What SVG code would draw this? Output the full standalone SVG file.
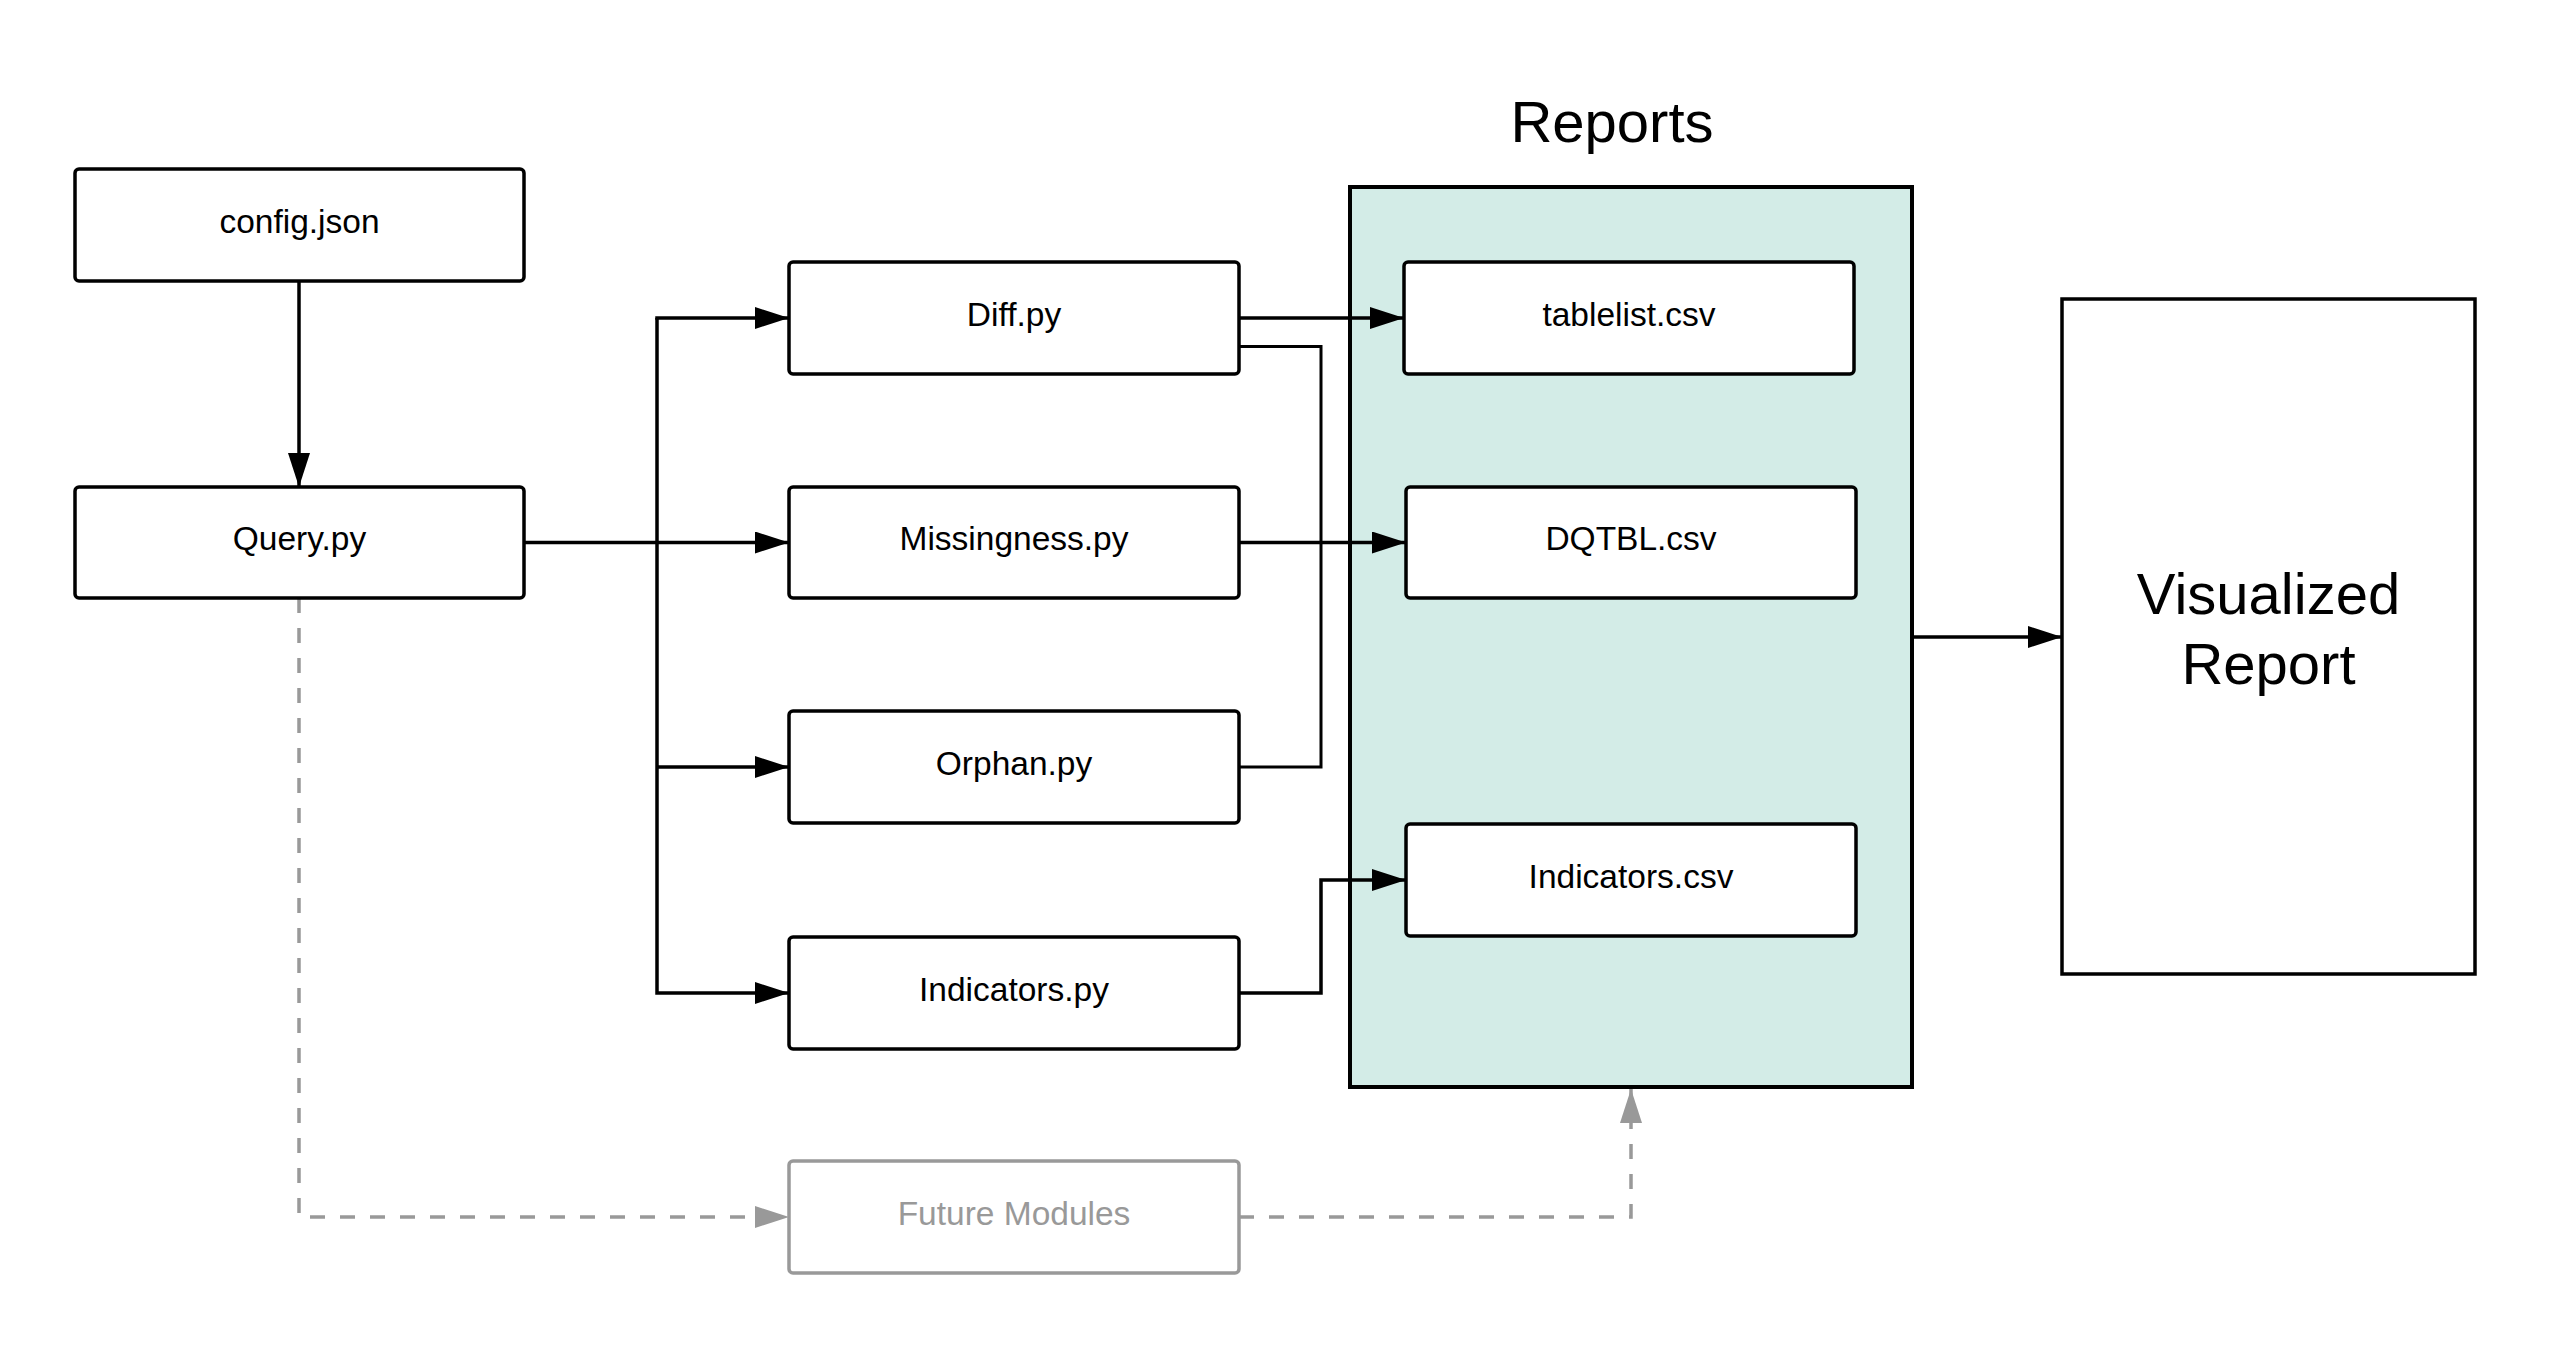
<svg xmlns="http://www.w3.org/2000/svg" width="2550" height="1350" viewBox="0 0 2550 1350">
<style>
.box{fill:#ffffff;stroke:#000000;stroke-width:3.5}
.gbox{fill:#ffffff;stroke:#999999;stroke-width:3.5}
.lbl{font-family:"Liberation Sans",Arial,sans-serif;font-size:33.5px;fill:#000000;text-anchor:middle}
.glbl{font-family:"Liberation Sans",Arial,sans-serif;font-size:33.5px;fill:#999999;text-anchor:middle}
.big{font-family:"Liberation Sans",Arial,sans-serif;font-size:58px;fill:#000000;text-anchor:middle}
.ln{fill:none;stroke:#000000;stroke-width:3.5}
.thin{fill:none;stroke:#000000;stroke-width:3}
.dash{fill:none;stroke:#999999;stroke-width:3.5;stroke-dasharray:15 15}
</style>
<defs>
<marker id="ah" markerUnits="userSpaceOnUse" markerWidth="34" markerHeight="22" refX="34" refY="11" orient="auto">
<path d="M0,0 L34,11 L0,22 z" fill="#000000"/>
</marker>
<marker id="ahg" markerUnits="userSpaceOnUse" markerWidth="34" markerHeight="22" refX="34" refY="11" orient="auto">
<path d="M0,0 L34,11 L0,22 z" fill="#999999"/>
</marker>
</defs>
<rect width="2550" height="1350" fill="#ffffff"/>

<g id="reports">
<rect x="1350" y="187" width="562" height="900" fill="#d3ece7" stroke="#000000" stroke-width="4"/>
<text class="big" x="1612" y="142">Reports</text>
</g>

<g id="connectors">
<line class="ln" x1="299" y1="281" x2="299" y2="487" marker-end="url(#ah)"/>
<line class="ln" x1="524" y1="542.5" x2="789" y2="542.5" marker-end="url(#ah)"/>
<polyline class="ln" points="657,318 657,993 789,993" marker-end="url(#ah)"/>
<line class="ln" x1="655.25" y1="318" x2="789" y2="318" marker-end="url(#ah)"/>
<line class="ln" x1="657" y1="767" x2="789" y2="767" marker-end="url(#ah)"/>
<line class="ln" x1="1239" y1="318" x2="1404" y2="318" marker-end="url(#ah)"/>
<polyline class="thin" points="1239,346.5 1321,346.5 1321,767 1239,767"/>
<line class="ln" x1="1239" y1="542.5" x2="1406" y2="542.5" marker-end="url(#ah)"/>
<polyline class="ln" points="1239,993 1321,993 1321,880 1406,880" marker-end="url(#ah)"/>
<line class="ln" x1="1912" y1="637" x2="2062" y2="637" marker-end="url(#ah)"/>
<polyline class="dash" points="299,598 299,1217 789,1217" marker-end="url(#ahg)"/>
<polyline class="dash" points="1239,1217 1631,1217 1631,1089" marker-end="url(#ahg)"/>
</g>

<g id="config">
<rect class="box" x="75" y="169" width="449" height="112" rx="4"/>
<text class="lbl" x="299.5" y="233">config.json</text>
</g>
<g id="query">
<rect class="box" x="75" y="487" width="449" height="111" rx="4"/>
<text class="lbl" x="299.5" y="550">Query.py</text>
</g>
<g id="diff">
<rect class="box" x="789" y="262" width="450" height="112" rx="4"/>
<text class="lbl" x="1014" y="326">Diff.py</text>
</g>
<g id="missingness">
<rect class="box" x="789" y="487" width="450" height="111" rx="4"/>
<text class="lbl" x="1014" y="550">Missingness.py</text>
</g>
<g id="orphan">
<rect class="box" x="789" y="711" width="450" height="112" rx="4"/>
<text class="lbl" x="1014" y="775">Orphan.py</text>
</g>
<g id="indicators-py">
<rect class="box" x="789" y="937" width="450" height="112" rx="4"/>
<text class="lbl" x="1014" y="1001">Indicators.py</text>
</g>
<g id="future">
<rect class="gbox" x="789" y="1161" width="450" height="112" rx="4"/>
<text class="glbl" x="1014" y="1225">Future Modules</text>
</g>
<g id="tablelist">
<rect class="box" x="1404" y="262" width="450" height="112" rx="4"/>
<text class="lbl" x="1629" y="326">tablelist.csv</text>
</g>
<g id="dqtbl">
<rect class="box" x="1406" y="487" width="450" height="111" rx="4"/>
<text class="lbl" x="1631" y="550">DQTBL.csv</text>
</g>
<g id="indicators-csv">
<rect class="box" x="1406" y="824" width="450" height="112" rx="4"/>
<text class="lbl" x="1631" y="888">Indicators.csv</text>
</g>
<g id="visualized">
<rect x="2062" y="299" width="413" height="675" fill="#ffffff" stroke="#000000" stroke-width="3.5"/>
<text class="big" x="2268.5" y="614">Visualized</text>
<text class="big" x="2268.5" y="684">Report</text>
</g>
</svg>
